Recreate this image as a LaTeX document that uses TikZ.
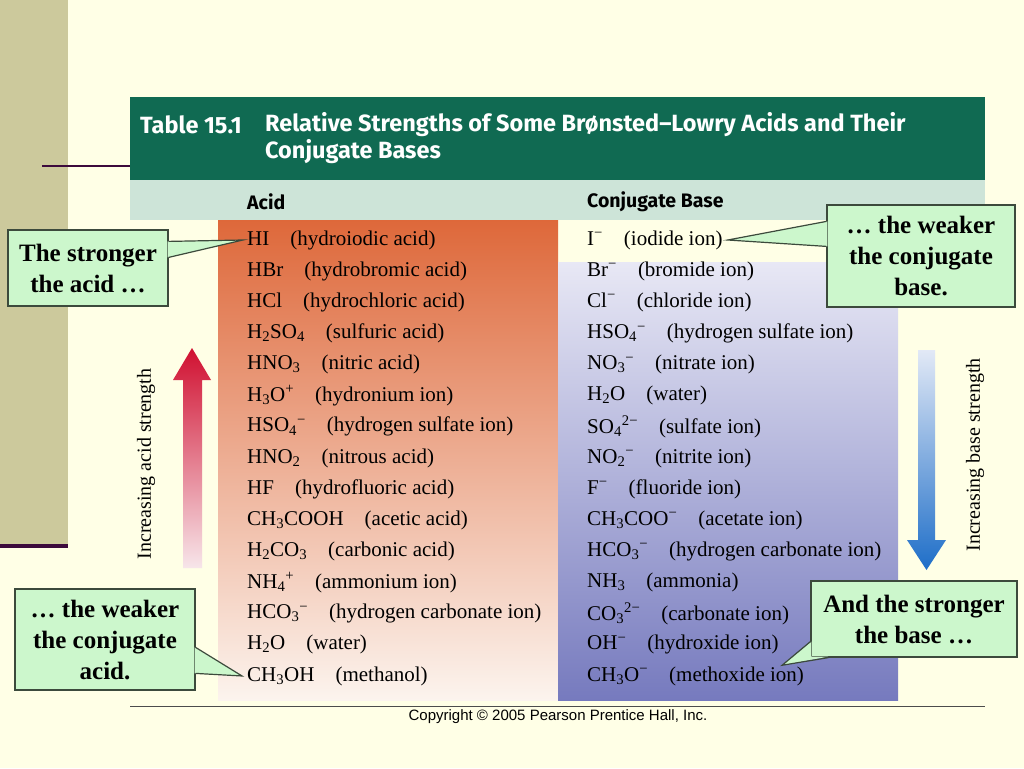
\documentclass[tikz,border=0pt]{standalone}
\usepackage{fontspec}
\setmainfont{Liberation Serif}
\newfontfamily\hdfont{Fira Sans}
\newfontfamily\cpfont{Liberation Sans}
\usetikzlibrary{calc}
\definecolor{pagebg}{HTML}{FFFFE6}
\definecolor{bandkh}{HTML}{CCC99C}
\definecolor{bandln}{HTML}{3C0A3C}
\definecolor{hdgreen}{HTML}{106A52}
\definecolor{subhd}{HTML}{CDE4D8}
\definecolor{acidtop}{HTML}{DE683A}
\definecolor{acidbot}{HTML}{FCF4EE}
\definecolor{basetop}{HTML}{E8E8F5}
\definecolor{basebot}{HTML}{767ABE}
\definecolor{callfill}{HTML}{CCF7CC}
\definecolor{callline}{HTML}{3C4A3C}
\definecolor{redtop}{HTML}{D01030}
\definecolor{redbot}{HTML}{F7E6EA}
\definecolor{bluetop}{HTML}{E2E9F6}
\definecolor{bluebot}{HTML}{1E6EC8}
\newcommand\chsub[1]{\textsubscript{#1}}
\newcommand\chsup[1]{\textsuperscript{#1}}
\newcommand\chgap{\hspace{1em}}
\begin{document}
\begin{tikzpicture}[
            x=1pt, y=-1pt,
            every node/.style={black},
            row/.style={anchor=west, inner sep=1pt, font=\fontsize{21}{23}\selectfont},
            colhd/.style={anchor=west, inner sep=0pt, font=\hdfont\bfseries\fontsize{19.5}{22}\selectfont},
            callbox/.style={draw=callline, line width=1.2pt, fill=callfill, align=center, inner sep=0pt,
                font=\bfseries\fontsize{25}{31}\selectfont},
            callout/.style={draw=callline, line width=1.2pt}
        ]
            \useasboundingbox (0,0) rectangle (1024,768);
            \fill [pagebg] (0,0) rectangle (1024,768);
            \fill [bandkh] (0,0) rectangle (68,548);
            \draw [bandln,line width=4pt] (0,546) -- (68,546);
            \draw [bandln,line width=2pt] (42,166) -- (130,166);

            % table frame
            \fill [hdgreen] (130,97) rectangle (985,180);
            \fill [subhd] (130,180) rectangle (985,220);
            \shade [top color=acidtop, bottom color=acidbot] (218,220) rectangle (558,700);
            \shade [top color=basetop, bottom color=basebot] (558,262) rectangle (898,700);
            \draw [black!70,thin] (130,706) -- (985,706);

            \node [anchor=west, inner sep=0pt, font=\hdfont\bfseries\fontsize{23.5}{27}\selectfont, white] (tnum) at (140,125) {Table 15.1};
            \node [anchor=west, inner sep=0pt, align=left, font=\hdfont\bfseries\fontsize{23.5}{27}\selectfont, white] (ttl) at (265,138.5)
                {Relative Strengths of Some Brønsted–Lowry Acids and Their\\Conjugate Bases};
            \node [colhd] (acidhd) at (247,202) {Acid};
            \node [colhd] (basehd) at (587,202) {Conjugate Base};

            \foreach \i/\acidtxt/\basetxt in {
                1/{HI\chgap(hydroiodic acid)}/{I\chsup{−}\chgap(iodide ion)},
                2/{HBr\chgap(hydrobromic acid)}/{Br\chsup{−}\chgap(bromide ion)},
                3/{HCl\chgap(hydrochloric acid)}/{Cl\chsup{−}\chgap(chloride ion)},
                4/{H\chsub{2}SO\chsub{4}\chgap(sulfuric acid)}/{HSO\chsub{4}\chsup{−}\chgap(hydrogen sulfate ion)},
                5/{HNO\chsub{3}\chgap(nitric acid)}/{NO\chsub{3}\chsup{−}\chgap(nitrate ion)},
                6/{H\chsub{3}O\chsup{+}\chgap(hydronium ion)}/{H\chsub{2}O\chgap(water)},
                7/{HSO\chsub{4}\chsup{−}\chgap(hydrogen sulfate ion)}/{SO\chsub{4}\chsup{2−}\chgap(sulfate ion)},
                8/{HNO\chsub{2}\chgap(nitrous acid)}/{NO\chsub{2}\chsup{−}\chgap(nitrite ion)},
                9/{HF\chgap(hydrofluoric acid)}/{F\chsup{−}\chgap(fluoride ion)},
                10/{CH\chsub{3}COOH\chgap(acetic acid)}/{CH\chsub{3}COO\chsup{−}\chgap(acetate ion)},
                11/{H\chsub{2}CO\chsub{3}\chgap(carbonic acid)}/{HCO\chsub{3}\chsup{−}\chgap(hydrogen carbonate ion)},
                12/{NH\chsub{4}\chsup{+}\chgap(ammonium ion)}/{NH\chsub{3}\chgap(ammonia)},
                13/{HCO\chsub{3}\chsup{−}\chgap(hydrogen carbonate ion)}/{CO\chsub{3}\chsup{2−}\chgap(carbonate ion)},
                14/{H\chsub{2}O\chgap(water)}/{OH\chsup{−}\chgap(hydroxide ion)},
                15/{CH\chsub{3}OH\chgap(methanol)}/{CH\chsub{3}O\chsup{−}\chgap(methoxide ion)}}
            {
                \node [row] (a\i) at (246,{240+31.14*(\i-1)}) {\acidtxt};
                \node [row] (b\i) at (586,{240+31.14*(\i-1)}) {\basetxt};
            }

            \node [font=\cpfont\fontsize{15}{17}\selectfont, inner sep=0pt] (copy) at (558,717) {Copyright © 2005 Pearson Prentice Hall, Inc.};

            % strength arrows
            \shade [top color=redtop, bottom color=redbot] (183,568) -- (183,380) -- (173,380) -- (192,348)
                -- (211,380) -- (202,380) -- (202,568) -- cycle;
            \shade [top color=bluetop, bottom color=bluebot] (918,350) -- (935,350) -- (935,540) -- (946,540)
                -- (926.5,570) -- (907,540) -- (918,540) -- cycle;
            \node [rotate=90, font=\fontsize{20}{22}\selectfont] (acidlbl) at (146,464) {Increasing acid strength};
            \node [rotate=90, font=\fontsize{20}{22}\selectfont] (baselbl) at (975,455) {Increasing base strength};

            % callouts
            \node [callbox, minimum width=160pt, minimum height=76pt] (sa) at (88,268) {The stronger\\the acid …};
            \fill [callfill] ($(sa.north east)+(-1,12)$) -- ($(a1.west)+(-3,0)$) -- ($(sa.north east)+(-1,28)$) -- cycle;
            \draw [callout] ($(sa.north east)+(0,12)$) -- ($(a1.west)+(-3,0)$) -- ($(sa.north east)+(0,28)$);

            \node [callbox, minimum width=188pt, minimum height=102pt] (wb) at (921,256) {… the weaker\\the conjugate\\base.};
            \fill [callfill] ($(wb.north west)+(1,17)$) -- ($(b1.east)+(4,0)$) -- ($(wb.north west)+(1,42)$) -- cycle;
            \draw [callout] ($(wb.north west)+(0,17)$) -- ($(b1.east)+(4,0)$) -- ($(wb.north west)+(0,42)$);

            \node [callbox, minimum width=180pt, minimum height=101pt] (wa) at (105,639.5) {… the weaker\\the conjugate\\acid.};
            \fill [callfill] ($(wa.north east)+(-1,59)$) -- ($(a15.west)+(-4,0)$) -- ($(wa.north east)+(-1,85)$) -- cycle;
            \draw [callout] ($(wa.north east)+(0,59)$) -- ($(a15.west)+(-4,0)$) -- ($(wa.north east)+(0,85)$);

            \node [callbox, minimum width=206pt, minimum height=76pt] (sb) at (914,619) {And the stronger\\the base …};
            \coordinate (sbtip) at ($(b15.north east)+(-23,0)$);
            \fill [callfill] ($(sb.south west)+(1,-16)$) -- (sbtip) -- ($(sb.south west)+(18,-1)$) -- ($(sb.south west)+(1,-1)$) -- cycle;
            \draw [callout] ($(sb.south west)+(0,-16)$) -- (sbtip) -- ($(sb.south west)+(18,0)$);
        \end{tikzpicture}
\end{document}
